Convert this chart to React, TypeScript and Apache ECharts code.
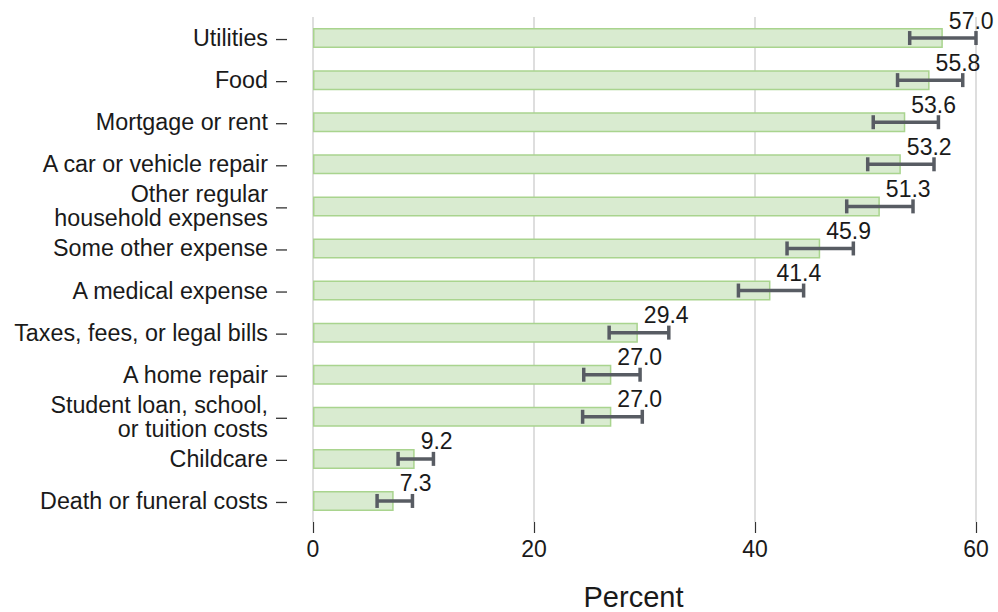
import React, { useEffect, useRef } from "react";
import * as echarts from "echarts";

const categories = [
  "Utilities",
  "Food",
  "Mortgage or rent",
  "A car or vehicle repair",
  "Other regular\nhousehold expenses",
  "Some other expense",
  "A medical expense",
  "Taxes, fees, or legal bills",
  "A home repair",
  "Student loan, school,\nor tuition costs",
  "Childcare",
  "Death or funeral costs",
];
const values = [57.0, 55.8, 53.6, 53.2, 51.3, 45.9, 41.4, 29.4, 27.0, 27.0, 9.2, 7.3];
const lower = [54.0, 52.9, 50.7, 50.2, 48.3, 42.9, 38.5, 26.8, 24.5, 24.4, 7.7, 5.8];
const upper = [60.0, 58.8, 56.6, 56.2, 54.3, 48.9, 44.4, 32.2, 29.6, 29.8, 10.9, 9.0];
const xTicks = [0, 20, 40, 60];

const FONT = "'Liberation Sans', Arial, sans-serif";
const TEXT = "#1a1a1a";

export default function App() {
  const ref = useRef<HTMLDivElement>(null);
  useEffect(() => {
    if (!ref.current) return;
    const chart = echarts.init(ref.current, undefined, { renderer: "svg" });
    const errData = categories.map((_, i) => [i, lower[i], upper[i]]);
    chart.setOption({
      animation: false,
      backgroundColor: "#ffffff",
      textStyle: { fontFamily: FONT },
      grid: { left: 313, top: 17, width: 663, height: 505, containLabel: false, outerBoundsMode: "none" },
      xAxis: {
        type: "value",
        min: xTicks[0],
        max: xTicks[xTicks.length - 1],
        interval: 20,
        name: "Percent",
        nameLocation: "middle",
        nameGap: 60,
        nameTextStyle: { fontSize: 29, color: TEXT, fontFamily: FONT, padding: [0, 22, 0, 0] },
        axisLine: { show: false },
        axisTick: { show: true, length: 11, lineStyle: { color: "#333", width: 1.2 } },
        axisLabel: { fontSize: 23, color: TEXT, margin: 15, fontFamily: FONT },
        splitLine: { show: true, lineStyle: { color: "#dedede", width: 2 } },
      },
      yAxis: {
        type: "category",
        data: categories,
        inverse: true,
        offset: 0,
        axisLine: { show: false },
        axisTick: { show: false },
        axisLabel: { fontSize: 23.3, color: TEXT, margin: 45, lineHeight: 24, fontFamily: FONT, align: "right", padding: [4, 0, 0, 0] },
        splitLine: { show: false },
      },
      series: [
        {
          type: "bar",
          data: values,
          barWidth: 20,
          itemStyle: { color: "#d9ebd0", borderColor: "#a9d48e", borderWidth: 1.5 },
          label: {
            show: true,
            position: "right",
            distance: 6,
            offset: [0, -17.5],
            fontSize: 23,
            color: TEXT,
            fontFamily: FONT,
            formatter: (p: any) => Number(p.value).toFixed(1),
          },
          z: 2,
        },
        {
          type: "custom",
          data: errData,
          encode: { y: 0, x: [1, 2] },
          clip: false,
          z: 3,
          renderItem: (params: any, api: any) => {
            const idx = api.value(0);
            const lo = api.coord([api.value(1), idx]);
            const hi = api.coord([api.value(2), idx]);
            const zero = api.coord([0, idx]);
            const style = { stroke: "#585c63", lineWidth: 3.5 };
            const tickStyle = { stroke: "#333333", lineWidth: 1.3 };
            const h = 7;
            return {
              type: "group",
              children: [
                { type: "line", shape: { x1: lo[0], y1: lo[1], x2: hi[0], y2: hi[1] }, style },
                { type: "line", shape: { x1: lo[0], y1: lo[1] - h, x2: lo[0], y2: lo[1] + h }, style },
                { type: "line", shape: { x1: hi[0], y1: hi[1] - h, x2: hi[0], y2: hi[1] + h }, style },
                { type: "line", shape: { x1: zero[0] - 37, y1: zero[1] + 1.5, x2: zero[0] - 26, y2: zero[1] + 1.5 }, style: tickStyle },
              ],
            };
          },
        },
      ],
    });
    return () => chart.dispose();
  }, []);
  return (
    <div
      ref={ref}
      style={{ position: "fixed", left: 0, top: 0, width: 998, height: 612, background: "#fff" }}
    />
  );
}
